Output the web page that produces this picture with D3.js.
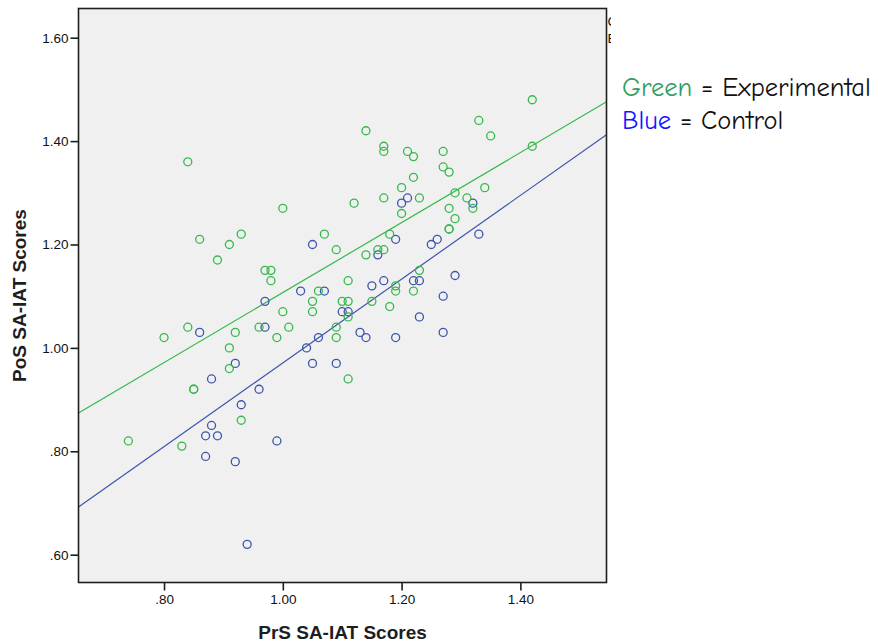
<!DOCTYPE html>
<html>
<head>
<meta charset="utf-8">
<script src="https://cdn.jsdelivr.net/npm/d3@7"></script>
<style>
  html, body { margin: 0; padding: 0; background: #ffffff; }
  svg { display: block; }
</style>
</head>
<body>
<svg id="chart" width="877" height="643"></svg>
<script>
// PrS (pre) and PoS (post) SA-IAT scores per participant, by group
const experimentalPrS = [0.74,0.80,0.83,0.84,0.84,0.85,0.85,0.86,0.89,0.91,0.91,0.91,0.92,0.93,0.93,0.96,0.97,0.98,0.98,0.99,
  1.00,1.00,1.01,1.05,1.05,1.06,1.07,1.09,1.09,1.09,1.10,1.11,1.11,1.11,1.11,1.12,1.14,1.14,1.15,1.16,
  1.17,1.17,1.17,1.17,1.18,1.18,1.19,1.19,1.20,1.20,1.21,1.22,1.22,1.22,1.23,1.23,1.27,1.27,1.28,1.28,
  1.28,1.28,1.29,1.29,1.31,1.32,1.33,1.34,1.35,1.42,1.42];
const experimentalPoS = [0.82,1.02,0.81,1.36,1.04,0.92,0.92,1.21,1.17,1.20,1.00,0.96,1.03,1.22,0.86,1.04,1.15,1.15,1.13,1.02,
  1.27,1.07,1.04,1.09,1.07,1.11,1.22,1.19,1.04,1.02,1.09,1.09,1.13,1.06,0.94,1.28,1.42,1.18,1.09,1.19,
  1.39,1.38,1.29,1.19,1.22,1.08,1.12,1.11,1.31,1.26,1.38,1.37,1.33,1.11,1.29,1.15,1.38,1.35,1.34,1.27,
  1.23,1.23,1.30,1.25,1.29,1.27,1.44,1.31,1.41,1.48,1.39];
const controlPrS = [0.86,0.87,0.87,0.88,0.88,0.89,0.92,0.92,0.93,0.94,0.96,0.97,0.97,0.99,1.03,1.04,1.05,1.05,1.06,1.07,
  1.09,1.10,1.11,1.13,1.14,1.15,1.16,1.17,1.19,1.19,1.20,1.21,1.22,1.23,1.23,1.25,1.26,1.27,1.27,1.29,
  1.32,1.33];
const controlPoS = [1.03,0.83,0.79,0.94,0.85,0.83,0.97,0.78,0.89,0.62,0.92,1.09,1.04,0.82,1.11,1.00,1.20,0.97,1.02,1.11,
  0.97,1.07,1.07,1.03,1.02,1.12,1.18,1.13,1.21,1.02,1.28,1.29,1.13,1.13,1.06,1.20,1.21,1.10,1.03,1.14,
  1.28,1.22];

// Linear fit lines: [intercept, slope]
const experimentalFit = [0.430, 0.677];
const controlFit = [0.161, 0.810];

// Axis ranges and ticks
const xDomain = [0.656, 1.545];
const yDomain = [0.5462, 1.6565];
const xTicks = [0.80, 1.00, 1.20, 1.40];
const yTicks = [0.60, 0.80, 1.00, 1.20, 1.40, 1.60];

const groupNames = ["Control", "Experimental"];
const legendLines = [
  { key: "Green", keyColor: "#2f9e63", rest: " = Experimental" },
  { key: "Blue", keyColor: "#1414ff", rest: " = Control" }
];

const GREEN = "#35b94b";
const BLUE = "#3e55ad";

const svg = d3.select("#chart");
const plot = { left: 78.5, top: 8.5, right: 606.5, bottom: 582.5 };

const x = d3.scaleLinear().domain(xDomain).range([plot.left, plot.right]);
const y = d3.scaleLinear().domain(yDomain).range([plot.bottom, plot.top]);

const fmt = v => d3.format(".2f")(v).replace(/^0\./, ".");

// plot background
svg.append("rect")
  .attr("x", plot.left).attr("y", plot.top)
  .attr("width", plot.right - plot.left).attr("height", plot.bottom - plot.top)
  .attr("fill", "#f0f0f0");

svg.append("defs").append("clipPath").attr("id", "plotclip")
  .append("rect")
  .attr("x", plot.left).attr("y", plot.top)
  .attr("width", plot.right - plot.left).attr("height", plot.bottom - plot.top);

const inner = svg.append("g").attr("clip-path", "url(#plotclip)");

// fit lines
function fitLine(fit, color) {
  const [b0, b1] = fit;
  inner.append("line")
    .attr("x1", x(xDomain[0])).attr("y1", y(b0 + b1 * xDomain[0]))
    .attr("x2", x(xDomain[1])).attr("y2", y(b0 + b1 * xDomain[1]))
    .attr("stroke", color).attr("stroke-width", 1.2);
}
fitLine(experimentalFit, GREEN);
fitLine(controlFit, BLUE);

// points
function points(xs, ys, color) {
  inner.append("g").selectAll("circle")
    .data(xs.map((v, i) => [v, ys[i]]))
    .join("circle")
    .attr("cx", d => x(d[0]))
    .attr("cy", d => y(d[1]))
    .attr("r", 4)
    .attr("fill", "none")
    .attr("stroke", color)
    .attr("stroke-width", 1.3);
}
points(controlPrS, controlPoS, BLUE);
points(experimentalPrS, experimentalPoS, GREEN);

// frame
svg.append("rect")
  .attr("x", plot.left).attr("y", plot.top)
  .attr("width", plot.right - plot.left).attr("height", plot.bottom - plot.top)
  .attr("fill", "none").attr("stroke", "#1e1e1e").attr("stroke-width", 1.6);

// axes
const xAxis = svg.append("g")
  .attr("transform", `translate(0,${plot.bottom})`)
  .call(d3.axisBottom(x).tickValues(xTicks).tickFormat(fmt).tickSize(8).tickPadding(4));
const yAxis = svg.append("g")
  .attr("transform", `translate(${plot.left},0)`)
  .call(d3.axisLeft(y).tickValues(yTicks).tickFormat(fmt).tickSize(8).tickPadding(2));

[xAxis, yAxis].forEach(g => {
  g.select(".domain").remove();
  g.selectAll(".tick line").attr("stroke", "#1e1e1e").attr("stroke-width", 1.6);
  g.selectAll(".tick text")
    .attr("fill", "#111")
    .style("font-family", "'Liberation Sans', Arial, sans-serif")
    .style("font-size", "13.5px");
});

// axis titles
svg.append("text")
  .attr("x", (plot.left + plot.right) / 2).attr("y", 639)
  .attr("text-anchor", "middle")
  .style("font-family", "'Liberation Sans', Arial, sans-serif")
  .style("font-size", "19px").style("font-weight", "bold")
  .attr("fill", "#1e1e1e")
  .text("PrS SA-IAT Scores");
svg.append("text")
  .attr("transform", `translate(26,${(plot.top + plot.bottom) / 2}) rotate(-90)`)
  .attr("text-anchor", "middle")
  .style("font-family", "'Liberation Sans', Arial, sans-serif")
  .style("font-size", "19px").style("font-weight", "bold")
  .attr("fill", "#1e1e1e")
  .text("PoS SA-IAT Scores");

// group legend, mostly hidden behind the right edge
svg.append("defs").append("clipPath").attr("id", "legclip")
  .append("rect").attr("x", 606).attr("y", 0).attr("width", 5).attr("height", 60);
const leg = svg.append("g").attr("clip-path", "url(#legclip)");
groupNames.forEach((name, i) => {
  leg.append("text")
    .attr("x", 607.5).attr("y", 26 + i * 16.5)
    .style("font-family", "'Liberation Sans', Arial, sans-serif")
    .style("font-size", "13.5px")
    .attr("fill", "#111")
    .text(name);
});

// colour key
const keyText = svg.append("g");
legendLines.forEach((d, i) => {
  const t = keyText.append("text")
    .attr("x", 622).attr("y", 96 + i * 32.5)
    .style("font-family", "'Comic Sans MS', 'Comic Neue', 'DejaVu Sans', sans-serif")
    .style("font-size", "26.5px");
  t.append("tspan").attr("fill", d.keyColor).text(d.key);
  t.append("tspan").attr("fill", "#111").text(d.rest);
});
</script>
</body>
</html>
